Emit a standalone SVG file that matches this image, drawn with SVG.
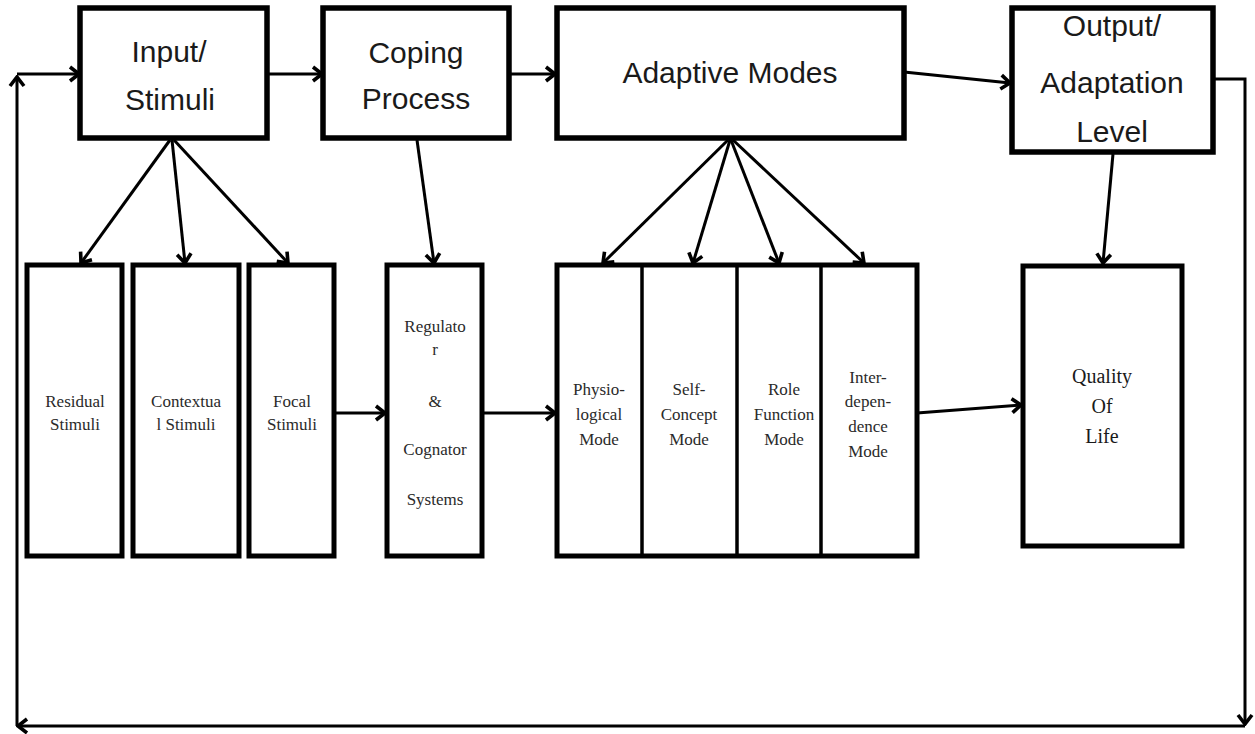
<svg xmlns="http://www.w3.org/2000/svg" width="1255" height="734" viewBox="0 0 1255 734">
<style>
.box{fill:#fff;stroke:#000;stroke-width:5.5}
.sbox{fill:#fff;stroke:#000;stroke-width:5}
.div{stroke:#000;stroke-width:3.5}
.big{font-family:"Liberation Sans",Arial,sans-serif;font-size:30px;fill:#1a1a1a;text-anchor:middle}
.sm{font-family:"Liberation Serif","Times New Roman",serif;font-size:17px;fill:#2a2a2a;text-anchor:middle}
.ql{font-family:"Liberation Serif","Times New Roman",serif;font-size:20px;fill:#1a1a1a;text-anchor:middle}
.c{fill:none;stroke:#000;stroke-width:3}
</style>
<defs>
<marker id="ah" markerUnits="userSpaceOnUse" viewBox="-12 -10 14 20" markerWidth="14" markerHeight="20" refX="0" refY="0" orient="auto">
<path d="M-9,-7 L0,0 L-9,7" fill="none" stroke="#000" stroke-width="3.6"/>
</marker>
</defs>
<rect width="1255" height="734" fill="#fff"/>
<g id="connectors">
<path class="c" d="M1213,79 H1245 V724" marker-end="url(#ah)"/>
<path class="c" d="M1245,726 H18" marker-end="url(#ah)"/>
<path class="c" d="M17,726 V77" marker-end="url(#ah)"/>
<path class="c" d="M17,74 H79" marker-end="url(#ah)"/>
<path class="c" d="M267,74 H322" marker-end="url(#ah)"/>
<path class="c" d="M509,74 H555" marker-end="url(#ah)"/>
<path class="c" d="M904,72 L1010,83" marker-end="url(#ah)"/>
<path class="c" d="M170,140 L81,263" marker-end="url(#ah)"/>
<path class="c" d="M172,140 L185,263" marker-end="url(#ah)"/>
<path class="c" d="M174,140 L288,263" marker-end="url(#ah)"/>
<path class="c" d="M417,140 L434,263" marker-end="url(#ah)"/>
<path class="c" d="M728,140 L603,263" marker-end="url(#ah)"/>
<path class="c" d="M730,140 L693,263" marker-end="url(#ah)"/>
<path class="c" d="M731,140 L779,263" marker-end="url(#ah)"/>
<path class="c" d="M733,140 L864,263" marker-end="url(#ah)"/>
<path class="c" d="M1113,154 L1103,263" marker-end="url(#ah)"/>
<path class="c" d="M334,413 H385" marker-end="url(#ah)"/>
<path class="c" d="M482,413 H555" marker-end="url(#ah)"/>
<path class="c" d="M917,413 L1021,405" marker-end="url(#ah)"/>
</g>
<g id="input">
<rect class="box" x="80" y="8" width="187" height="130"/>
<text class="big" x="169" y="62">Input/</text>
<text class="big" x="170" y="110">Stimuli</text>
</g>
<g id="coping">
<rect class="box" x="323" y="8" width="186" height="130"/>
<text class="big" x="416" y="63">Coping</text>
<text class="big" x="416" y="109">Process</text>
</g>
<g id="adaptive">
<rect class="box" x="557" y="8" width="347" height="130"/>
<text class="big" x="730" y="83">Adaptive Modes</text>
</g>
<g id="output">
<rect class="box" x="1012" y="8" width="201" height="144"/>
<text class="big" x="1112" y="36">Output/</text>
<text class="big" x="1112" y="93">Adaptation</text>
<text class="big" x="1112" y="142">Level</text>
</g>
<g id="residual">
<rect class="sbox" x="27" y="265" width="95" height="291"/>
<text class="sm" x="75" y="407">Residual</text>
<text class="sm" x="75" y="430">Stimuli</text>
</g>
<g id="contextual">
<rect class="sbox" x="133" y="265" width="106" height="291"/>
<text class="sm" x="186" y="407">Contextua</text>
<text class="sm" x="186" y="430">l Stimuli</text>
</g>
<g id="focal">
<rect class="sbox" x="249" y="265" width="85" height="291"/>
<text class="sm" x="292" y="407">Focal</text>
<text class="sm" x="292" y="430">Stimuli</text>
</g>
<g id="regulator">
<rect class="sbox" x="387" y="265" width="95" height="291"/>
<text class="sm" x="435" y="332">Regulato</text>
<text class="sm" x="435" y="355">r</text>
<text class="sm" x="435" y="407">&amp;</text>
<text class="sm" x="435" y="455">Cognator</text>
<text class="sm" x="435" y="505">Systems</text>
</g>
<g id="modes">
<rect class="sbox" x="557" y="265" width="360" height="291"/>
<line class="div" x1="642" y1="265" x2="642" y2="556"/>
<line class="div" x1="737" y1="265" x2="737" y2="556"/>
<line class="div" x1="821" y1="265" x2="821" y2="556"/>
</g>
<g id="physiological">
<text class="sm" x="599" y="395">Physio-</text>
<text class="sm" x="599" y="420">logical</text>
<text class="sm" x="599" y="445">Mode</text>
</g>
<g id="selfconcept">
<text class="sm" x="689" y="395">Self-</text>
<text class="sm" x="689" y="420">Concept</text>
<text class="sm" x="689" y="445">Mode</text>
</g>
<g id="role">
<text class="sm" x="784" y="395">Role</text>
<text class="sm" x="784" y="420">Function</text>
<text class="sm" x="784" y="445">Mode</text>
</g>
<g id="interdependence">
<text class="sm" x="868" y="383">Inter-</text>
<text class="sm" x="868" y="407">depen-</text>
<text class="sm" x="868" y="432">dence</text>
<text class="sm" x="868" y="457">Mode</text>
</g>
<g id="quality">
<rect class="sbox" x="1023" y="266" width="159" height="280"/>
<text class="ql" x="1102" y="383">Quality</text>
<text class="ql" x="1102" y="413">Of</text>
<text class="ql" x="1102" y="443">Life</text>
</g>
</svg>
